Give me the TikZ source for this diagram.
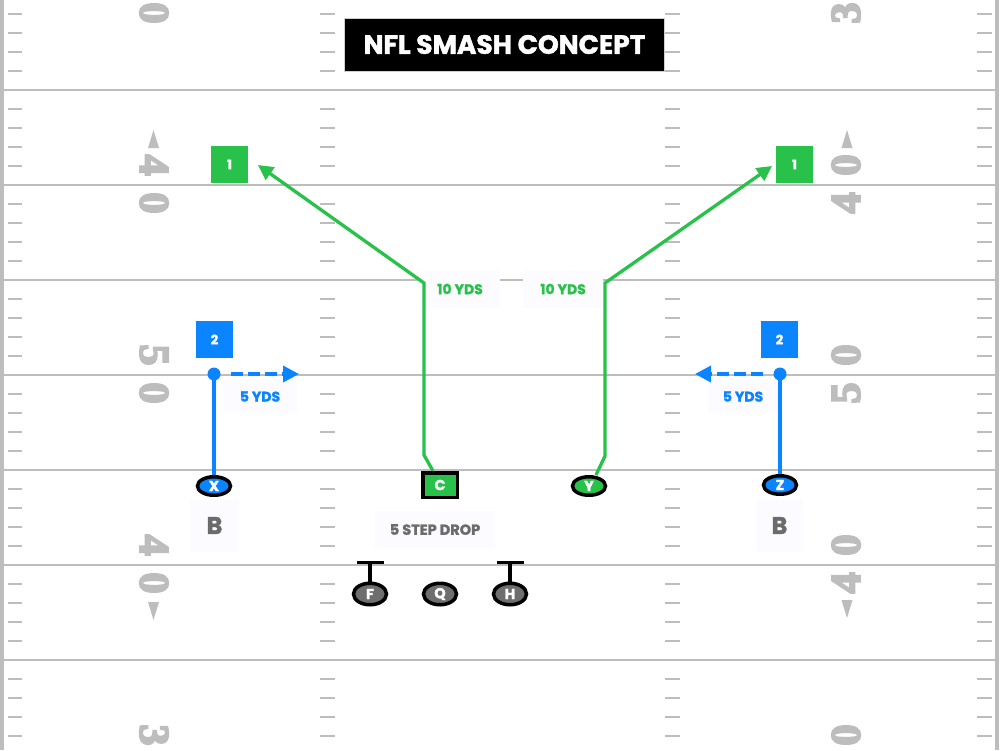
\documentclass[tikz,border=0pt]{standalone}
\usepackage{fontspec}
\setmainfont{Poppins}[BoldFeatures={FakeBold=1.6}]
\newfontfamily\numfont{Liberation Serif}[BoldFeatures={FakeBold=5}]
\usetikzlibrary{shapes.geometric,arrows.meta,calc}
\definecolor{fieldgray}{HTML}{BDBDBD}
\definecolor{nflgreen}{HTML}{28C24A}
\definecolor{nflblue}{HTML}{0A84FF}
\definecolor{plgray}{HTML}{6E6E6E}
\definecolor{txtgray}{HTML}{6B6B6B}
\definecolor{labelbg}{HTML}{FCFBFF}
\definecolor{titleedge}{HTML}{CFCFCF}
\pgfdeclarelayer{field}
\pgfdeclarelayer{labels}
\pgfdeclarelayer{routes}
\pgfsetlayers{field,labels,routes,main}
\begin{document}
\begin{tikzpicture}[x=1pt,y=-1pt,
  yardline/.style={draw=fieldgray,line width=2pt},
  hashmark/.style={draw=fieldgray,line width=2pt},
  yardnum/.style={text=fieldgray,inner sep=0pt,font=\numfont\bfseries\fontsize{42}{42}\selectfont},
  numarrow/.style={fill=fieldgray},
  playerfont/.style={text=white,font=\bfseries\fontsize{14.5}{14.5}\selectfont,inner sep=0pt},
  blueplayer/.style={ellipse,draw=black,line width=3.5pt,fill=nflblue,minimum width=33pt,minimum height=18.5pt,playerfont},
  greenplayer/.style={ellipse,draw=black,line width=3.5pt,fill=nflgreen,minimum width=33pt,minimum height=18.5pt,playerfont},
  grayplayer/.style={ellipse,draw=black,line width=3.5pt,fill=plgray,minimum width=33pt,minimum height=21.5pt,playerfont},
  centerbox/.style={rectangle,draw=black,line width=3.5pt,fill=nflgreen,minimum width=34.5pt,minimum height=24.5pt,playerfont},
  greenbox/.style={rectangle,fill=nflgreen,minimum size=37pt,text=white,inner sep=0pt,font=\bfseries\fontsize{13}{13}\selectfont},
  bluebox/.style={rectangle,fill=nflblue,minimum size=37pt,text=white,inner sep=0pt,font=\bfseries\fontsize{13}{13}\selectfont},
  bdot/.style={circle,fill=nflblue,minimum size=13pt,inner sep=0pt},
  lbl/.style={rectangle,fill=labelbg,inner sep=0pt,font=\bfseries\fontsize{14}{14}\selectfont},
  blbl/.style={rectangle,fill=labelbg,inner sep=0pt,text=txtgray,font=\bfseries\fontsize{24}{24}\selectfont},
  titlebox/.style={rectangle,fill=black,draw=titleedge,line width=1pt,text=white,minimum width=320pt,minimum height=53pt,inner sep=0pt,font=\bfseries\fontsize{26.5}{26.5}\selectfont},
  groute/.style={draw=nflgreen,line width=3.3pt,line join=miter},
  garrow/.style={groute,-{Triangle[length=15pt,width=15pt]}},
  broute/.style={draw=nflblue,line width=3.5pt},
  barrow/.style={broute,dash pattern=on 12pt off 5pt,-{Triangle[length=16pt,width=16pt]}},
  tbar/.style={draw=black,line width=3.5pt}
]
\useasboundingbox (0,0) rectangle (1000,750);

\begin{pgfonlayer}{field}
\fill[white] (0,0) rectangle (1000,750);
% sidelines
\fill[fieldgray] (0,0) rectangle (4,750);
\fill[fieldgray] (995,0) rectangle (998.5,750);
% yard lines
\foreach \k in {0,...,6}{
  \draw[yardline] (4,90+95*\k) -- (995,90+95*\k);
}
% hash marks
\foreach \k in {0,...,7}{
  \foreach \j in {1,2,3,4}{
    \draw[hashmark] (8,-5+95*\k+19*\j) -- (22,-5+95*\k+19*\j);
    \draw[hashmark] (320,-5+95*\k+19*\j) -- (335,-5+95*\k+19*\j);
    \draw[hashmark] (665,-5+95*\k+19*\j) -- (680,-5+95*\k+19*\j);
    \draw[hashmark] (977,-5+95*\k+19*\j) -- (992,-5+95*\k+19*\j);
  }
}
% yard numbers
\foreach \ly/\d [count=\i] in {-6/3,184/4,374/5,564/4,754/3}{
  \node[yardnum,rotate=-90] (lt\i) at (154,\ly-19) {\d};
  \node[yardnum,rotate=-90] (lo\i) at (154,\ly+19) {0};
  \node[yardnum,rotate=90] (ro\i) at (846,\ly-19) {0};
  \node[yardnum,rotate=90] (rt\i) at (846,\ly+19) {\d};
}
% direction arrows next to the 40s
\fill[numarrow] (148,148) -- (159,148) -- (153.5,130) -- cycle;
\fill[numarrow] (148,602) -- (159,602) -- (153.5,620) -- cycle;
\fill[numarrow] (841.5,148) -- (852.5,148) -- (847,130) -- cycle;
\fill[numarrow] (841.5,600) -- (852.5,600) -- (847,618) -- cycle;
\end{pgfonlayer}

% title
\node[titlebox] (title) at (504.5,44.5) {NFL SMASH CONCEPT};

% players
\node[blueplayer] (X) at (214,486) {X};
\node[blueplayer] (Z) at (780,485) {Z};
\node[greenplayer] (Y) at (589,486) {Y};
\node[centerbox] (C) at (440,485) {C};
\node[grayplayer] (F) at (370,594) {F};
\node[grayplayer] (Q) at (440,594) {Q};
\node[grayplayer] (H) at (510,594) {H};

% read numbers
\node[greenbox] (g1l) at (229.5,164.5) {1};
\node[greenbox] (g1r) at (794.5,164.5) {1};
\node[bluebox] (b2l) at (214.5,339.5) {2};
\node[bluebox] (b2r) at (779.5,339.5) {2};

% labels
\begin{pgfonlayer}{labels}
\node[lbl,text=nflgreen,minimum width=80pt,minimum height=38pt] (yl) at (460,289) {10 YDS};
\node[lbl,text=nflgreen,minimum width=80pt,minimum height=38pt] (yr) at (563,289) {10 YDS};
\node[lbl,text=nflblue,minimum width=74pt,minimum height=33pt] (fl) at (260,396.5) {5 YDS};
\node[lbl,text=nflblue,minimum width=70pt,minimum height=33pt] (fr) at (743,396.5) {5 YDS};
\node[lbl,text=txtgray,minimum width=120pt,minimum height=37pt,font=\bfseries\fontsize{14.5}{14.5}\selectfont] (drop) at (435,529.5) {5 STEP DROP};
\node[blbl,minimum width=49pt,minimum height=53pt] (bl) at (214.5,525.5) {B};
\node[blbl,minimum width=47pt,minimum height=53pt] (br) at (779.5,525.5) {B};
\end{pgfonlayer}

% break dots
\node[bdot] (dX) at (214,374) {};
\node[bdot] (dZ) at (780,374) {};

% route coordinates
\coordinate (cbend) at (424,455);
\coordinate (cturn) at (424,283);
\coordinate (ctip) at (258,165);
\coordinate (ybend) at (605,456);
\coordinate (yturn) at (605,283);
\coordinate (ytip) at (772,166);
\coordinate (xtip) at (299,374);
\coordinate (ztip) at (695,374);

\begin{pgfonlayer}{routes}
\draw[garrow] ([xshift=-7pt]C.north) -- (cbend) -- (cturn) -- (ctip);
\draw[garrow] ([xshift=7pt]Y.north) -- (ybend) -- (yturn) -- (ytip);
\draw[broute] (X.north) -- (dX.center);
\draw[broute] (Z.north) -- (dZ.center);
\draw[barrow] ([xshift=10pt]dX.east) -- (xtip);
\draw[barrow] ([xshift=-10pt]dZ.west) -- (ztip);
\draw[tbar] (F.north) -- ++(0,-19) ++(-13.5,0) -- ++(27,0);
\draw[tbar] (H.north) -- ++(0,-19) ++(-13.5,0) -- ++(27,0);
\end{pgfonlayer}
\end{tikzpicture}
\end{document}
